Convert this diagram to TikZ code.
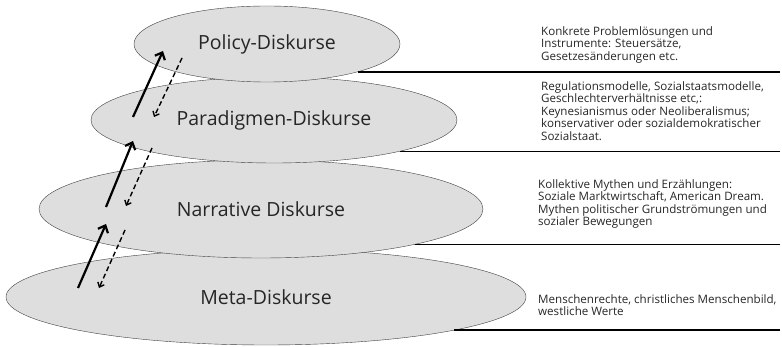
\documentclass[tikz,border=0pt]{standalone}
\usepackage{fontspec}
\setmainfont{Open Sans}
\usetikzlibrary{shapes.geometric,arrows.meta,positioning}
\begin{document}
\begin{tikzpicture}[x=1pt,y=-1pt,
    level/.style={ellipse,draw=black!75,fill=black!13,inner sep=0pt,text=black!85,font=\fontsize{19.5}{22}\selectfont},
    note/.style={anchor=north west,align=left,inner sep=0pt,font=\fontsize{11.6}{12.6}\selectfont,text=black!85},
    rim/.style={line width=1.6pt},
    up/.style={line width=2.2pt,-{Straight Barb[length=6pt,width=11pt]}},
    down/.style={line width=1.4pt,dash pattern=on 5pt off 3pt,-{Straight Barb[length=4pt,width=7pt]}}]
    \useasboundingbox (0,0) rectangle (782,347);
       \node [level,minimum width=520pt,minimum height=96pt] (meta) at (266,297) {Meta-Diskurse};
       \node [level,minimum width=444pt,minimum height=98pt] (narrative) at (261,209) {Narrative Diskurse};
       \node [level,minimum width=366pt,minimum height=86pt] (paradigm) at (274,120) {Paradigmen-Diskurse};
       \node [level,minimum width=266pt,minimum height=76pt] (policy) at (267,44) {Policy-Diskurse};
       \coordinate (edge) at (780,0);
        \draw[rim] (policy.-17) -- (policy.-17 -| edge);
        \draw[rim] (paradigm.-14.7) -- (paradigm.-14.7 -| edge);
        \draw[rim] (narrative.-13.5) -- (narrative.-13.5 -| edge);
        \draw[rim] (meta.-10.5) -- (meta.-10.5 -| edge);
       \node [note] (t_policy) at (541,26) {Konkrete Problemlösungen und\\Instrumente: Steuersätze,\\Gesetzesänderungen etc.};
       \node [note] (t_paradigm) at (541,81) {Regulationsmodelle, Sozialstaatsmodelle,\\Geschlechterverhältnisse etc,:\\Keynesianismus oder Neoliberalismus;\\konservativer oder sozialdemokratischer\\Sozialstaat.};
       \node [note] (t_narrative) at (538,179) {Kollektive Mythen und Erzählungen:\\Soziale Marktwirtschaft, American Dream.\\Mythen politischer Grundströmungen und\\sozialer Bewegungen};
       \node [note] (t_meta) at (538,294) {Menschenrechte, christliches Menschenbild,\\westliche Werte};
       \coordinate (u_1s) at (133,117); \coordinate (u_1e) at (163,51);
       \coordinate (d_1s) at (182,58);  \coordinate (d_1e) at (154,117);
       \coordinate (u_2s) at (106,207); \coordinate (u_2e) at (133,141);
       \coordinate (d_2s) at (152,148); \coordinate (d_2e) at (126,206);
       \coordinate (u_3s) at (78,288);  \coordinate (u_3e) at (106,224);
       \coordinate (d_3s) at (125,230); \coordinate (d_3e) at (99,288);
        \path[up]
        (u_1s) edge (u_1e)
        (u_2s) edge (u_2e)
        (u_3s) edge (u_3e);
        \path[down]
        (d_1s) edge (d_1e)
        (d_2s) edge (d_2e)
        (d_3s) edge (d_3e);
    \end{tikzpicture}
\end{document}
